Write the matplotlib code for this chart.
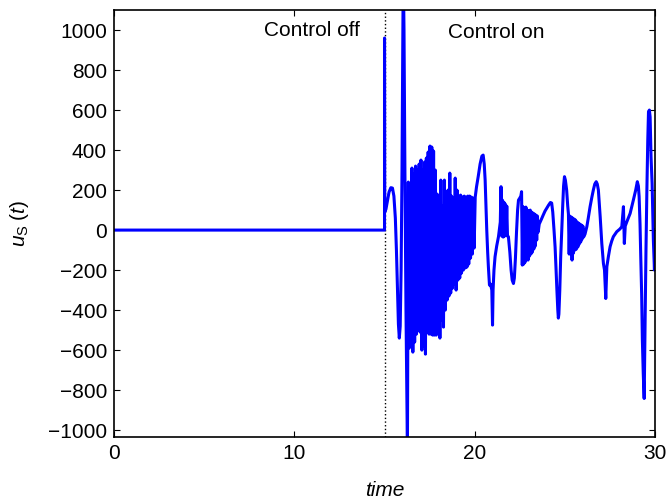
import matplotlib
matplotlib.use('Agg')
import matplotlib.pyplot as plt
import numpy as np

plt.rcParams['font.family'] = ['Liberation Sans', 'DejaVu Sans']
plt.rcParams['mathtext.fontset'] = 'custom'
plt.rcParams['mathtext.rm'] = 'Liberation Sans'
plt.rcParams['mathtext.it'] = 'Liberation Sans:italic'
plt.rcParams['path.simplify'] = False  # keep the dense bursts solid

# control off: signal stays at zero
off_t = [0.0, 15.0]
off_u = [0, 0]

# switch-on transient
trans_t = [15.0, 15.0, 15.01, 15.08, 15.15, 15.25, 15.35, 15.44, 15.52, 15.6, 15.66,
           15.72, 15.77, 15.82, 15.87, 15.92, 15.97, 16.01, 16.04, 16.08, 16.13,
           16.19, 16.27]
trans_u = [0, 960, 90, 105, 140, 190, 212, 210, 170, 60, -100,
           -300, -470, -540, -480, -200, 300, 900, 1300, 1000, 300,
           -400, -1100]

# first chaotic burst (alternating peaks / troughs)
burst1_t = [16.32, 16.37, 16.42, 16.47, 16.52, 16.57, 16.62, 16.67, 16.72, 16.77,
            16.82, 16.87, 16.92, 16.97, 17.02, 17.07, 17.12, 17.17, 17.22, 17.27,
            17.32, 17.37, 17.42, 17.47, 17.52, 17.57, 17.62, 17.67, 17.72, 17.77,
            17.82, 17.87, 17.92, 17.97, 18.02, 18.07, 18.12, 18.17, 18.22, 18.27,
            18.32, 18.37, 18.42, 18.47, 18.52, 18.57, 18.62, 18.67, 18.72, 18.77,
            18.82, 18.87, 18.92, 18.97, 19.02, 19.07, 19.12, 19.17, 19.22, 19.27,
            19.32, 19.37, 19.42, 19.47, 19.52, 19.57, 19.62, 19.67, 19.72, 19.77,
            19.82, 19.87, 19.92, 19.97]
burst1_u = [240, -590, 200, -580, 310, -610, 280, -560, 320, -520,
            300, -500, 330, -510, 350, -600, 300, -580, 340, -620,
            360, -470, 390, -520, 420, -520, 415, -525, 395, -525,
            300, -525, 180, -500, 120, -540, 250, -450, 120, -485,
            250, -400, 140, -350, 200, -330, 285, -315, 170, -290,
            160, -270, 260, -300, 200, -250, 170, -240, 175, -215,
            165, -200, 170, -190, 165, -185, 170, -170, 170, -140,
            165, -120, 160, -90]

# smooth swing after the first burst
swing1_t = [20.03, 20.1, 20.2, 20.3, 20.4, 20.47, 20.53, 20.58, 20.63, 20.67,
            20.72, 20.76, 20.82, 20.88, 20.95, 20.99, 21.02, 21.07, 21.13, 21.22,
            21.32, 21.42]
swing1_u = [165, 215, 270, 330, 370, 375, 330, 250, 110, 0,
            -110, -183, -275, -270, -300, -475, -300, -200, -133, -80,
            -33, 40]

burst2_t = [21.46, 21.5, 21.54, 21.58, 21.62, 21.66, 21.7, 21.74, 21.78, 21.82]
burst2_u = [217, -30, 150, -35, 140, -30, 130, -25, 120, -30]

swing2_t = [21.87, 21.95, 22.02, 22.08, 22.15, 22.2, 22.26, 22.32, 22.38, 22.43, 22.5, 22.56]
swing2_u = [-33, -110, -200, -250, -267, -240, -140, -10, 100, 150, 160, 170]

burst3_t = [22.6, 22.64, 22.68, 22.72, 22.76, 22.8, 22.84, 22.88, 22.92, 22.96,
            23.0, 23.04, 23.08, 23.12, 23.16, 23.2, 23.24, 23.28, 23.32, 23.36,
            23.4, 23.44, 23.48, 23.52]
burst3_u = [192, -175, 117, -170, 110, -160, 115, -140, 100, -150,
            95, -130, 100, -120, 90, -110, 85, -95, 80, -80,
            75, -50, 70, -10]

swing3_t = [23.58, 23.68, 23.8, 23.9, 24.0, 24.1, 24.2, 24.27, 24.33, 24.4,
            24.46, 24.51, 24.56, 24.61, 24.64, 24.67, 24.72, 24.77, 24.83, 24.88,
            24.93, 24.98, 25.03, 25.1, 25.16]
swing3_u = [30, 50, 75, 95, 110, 125, 138, 135, 90, 0,
            -85, -190, -300, -400, -440, -420, -300, -135, 0, 117,
            220, 267, 250, 200, 120]

burst4_t = [25.2, 25.24, 25.28, 25.32, 25.36, 25.4, 25.44, 25.48, 25.52, 25.56,
            25.6, 25.64, 25.68, 25.72, 25.76, 25.8, 25.84, 25.88, 25.92, 25.96,
            26.0, 26.04]
burst4_u = [80, -120, 70, -110, 65, -150, 60, -115, 55, -100,
            50, -95, 40, -85, 35, -70, 30, -60, 25, -45,
            20, -35]

swing4_t = [26.12, 26.22, 26.3, 26.4, 26.5, 26.58, 26.66, 26.74, 26.8, 26.86,
            26.96, 27.05, 27.14, 27.2, 27.27, 27.33, 27.42, 27.51, 27.6, 27.69,
            27.88, 28.05, 28.16, 28.25, 28.3, 28.35, 28.44, 28.62, 28.8, 28.93,
            29.02, 29.08, 29.12, 29.17, 29.21, 29.26, 29.3, 29.35, 29.4, 29.45,
            29.5, 29.55, 29.6, 29.64, 29.69, 29.73, 29.78, 29.84, 29.91, 29.97,
            30.0]
swing4_u = [-20, 17, 60, 117, 165, 200, 230, 242, 230, 200,
            67, -67, -167, -200, -342, -183, -130, -83, -55, -33,
            -8, 5, 17, 117, -67, 20, 42, 83, 150, 200,
            242, 220, 167, 30, -133, -320, -550, -720, -842, -467,
            -100, 200, 450, 592, 600, 565, 367, 233, -50, -200,
            0]

x_ticks = [0, 10, 20, 30]
y_ticks = [-1000, -800, -600, -400, -200, 0, 200, 400, 600, 800, 1000]

t = np.concatenate([off_t, trans_t, burst1_t, swing1_t, burst2_t, swing2_t,
                    burst3_t, swing3_t, burst4_t, swing4_t])
u = np.concatenate([off_u, trans_u, burst1_u, swing1_u, burst2_u, swing2_u,
                    burst3_u, swing3_u, burst4_u, swing4_u])

fig = plt.figure(figsize=(6.67, 5.03), dpi=100)
ax = fig.add_axes([0.171, 0.131, 0.811, 0.849])

ax.axvline(15, color='k', linestyle=':', linewidth=1.0)
ax.plot(t, u, color='#0000ff', linewidth=2.2)

ax.set_xlim(0, 30)
ax.set_ylim(-1035, 1100)
ax.set_xticks(x_ticks)
ax.set_yticks(y_ticks)
ax.tick_params(direction='in', top=True, right=True, length=4, width=0.8,
               labelsize=15, pad=5)
for s in ax.spines.values():
    s.set_linewidth(1.2)

ax.text(11.0, 1000, 'Control off', ha='center', va='center', fontsize=15)
ax.text(21.2, 990, 'Control on', ha='center', va='center', fontsize=15)

ax.set_xlabel('time', fontsize=15, style='italic', labelpad=13)
ax.set_ylabel(r'$u_{\mathrm{S}}\;(t)$', fontsize=15, labelpad=12)

fig.savefig('out.png', dpi=100)
